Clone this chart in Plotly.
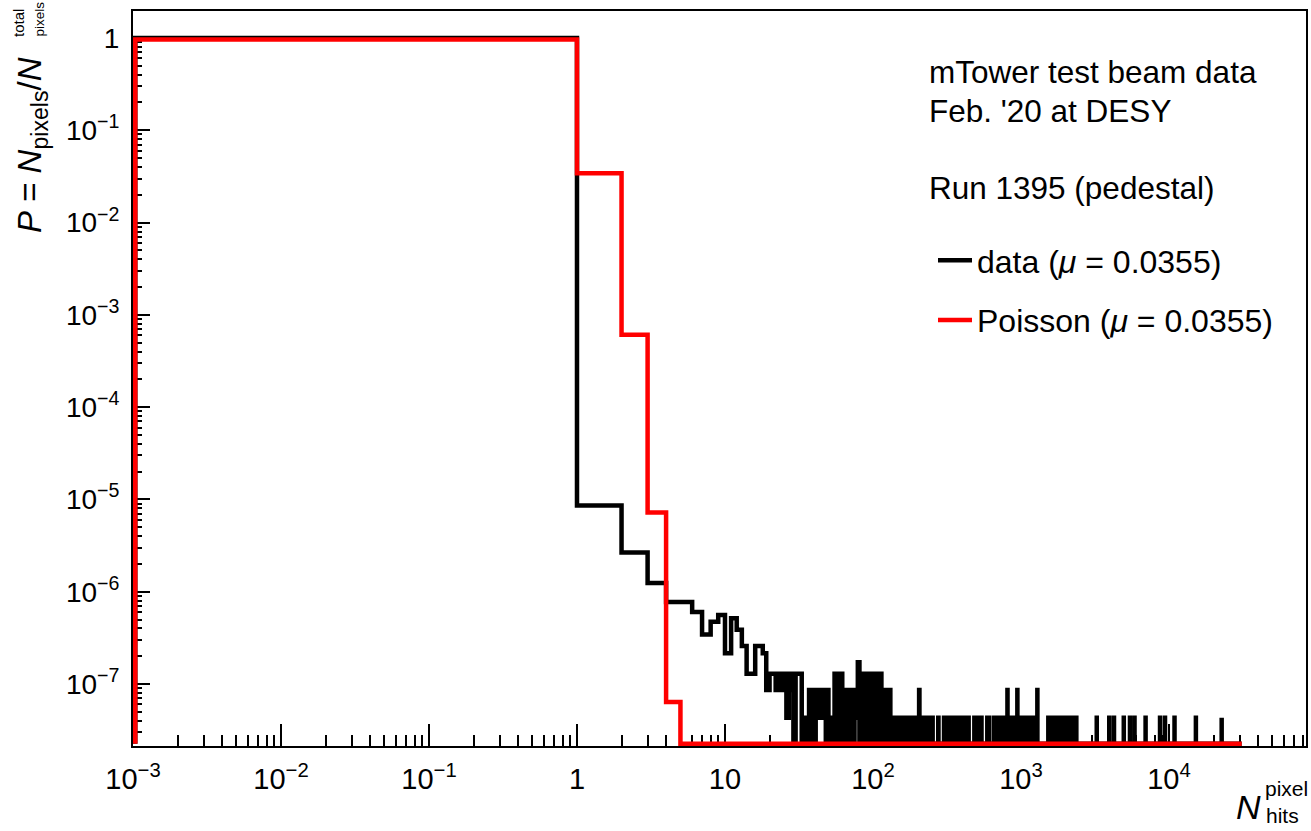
import math
import plotly.graph_objects as go

# ---------------- values ----------------
x_range_vals = [1e-3, 8.43e4]          # visible x range of the frame
y_range_vals = [2.13e-8, 1.96]         # visible y range of the frame
hist_upper_edge = 31000                # last bin edge of both histograms

x_tick_vals = [1e-3, 1e-2, 1e-1, 1, 10, 1e2, 1e3, 1e4]
x_tick_text = ["10<sup>−3</sup>", "10<sup>−2</sup>", "10<sup>−1</sup>", "1", "10",
               "10<sup>2</sup>", "10<sup>3</sup>", "10<sup>4</sup>"]
y_tick_vals = [1e-7, 1e-6, 1e-5, 1e-4, 1e-3, 1e-2, 1e-1, 1]
y_tick_text = ["10<sup>−7</sup>", "10<sup>−6</sup>", "10<sup>−5</sup>", "10<sup>−4</sup>",
               "10<sup>−3</sup>", "10<sup>−2</sup>", "10<sup>−1</sup>", "1"]

# Poisson expectation (bins [0,1), [1,2), ...)
poisson_bin_edges = [0, 1, 2, 3, 4]
poisson_values = [0.965, 0.0343, 6.1e-4, 7.2e-6, 6.4e-8]

# data: bin 0 fraction, then non-empty bins (low edge) and their pixel counts
data_zero_bin_value = 0.99998
single_pixel_fraction = 4.3e-8
data_bins = [
    1, 2, 3, 4, 5, 6, 7, 8, 9, 10, 11, 12, 13, 14, 15, 16, 17, 18, 19, 20,
    21, 22, 23, 24, 25, 26, 27, 28, 30, 31, 32, 34, 37, 39, 41, 42, 43, 44, 45, 46,
    47, 49, 51, 53, 55, 56, 57, 59, 60, 61, 62, 64, 65, 66, 68, 69, 71, 72, 73, 75,
    76, 77, 78, 79, 80, 82, 83, 85, 86, 88, 89, 91, 92, 94, 95, 97, 98, 100, 102, 103,
    105, 107, 108, 110, 111, 113, 115, 117, 119, 120, 122, 123, 125, 127, 128, 130,
    131, 138, 146, 154, 163, 172, 182, 192, 205, 214, 226, 239, 252, 276, 302, 319,
    337, 356, 376, 397, 419, 442, 484, 511, 540, 592, 610, 660, 697, 736, 777, 810,
    850, 895, 945, 995, 1050, 1108, 1170, 1230, 1290, 1530, 1616, 1706, 1801, 1902,
    2008, 2120, 2240, 2365, 3250, 3950, 4250, 4950, 5450, 5850, 6950, 8700, 9400,
    10900, 15200, 22700,
]
data_counts = [
    200, 62, 29, 18, 18, 14, 8, 11, 13, 5, 12, 9, 6, 3, 3, 6, 6, 5, 2, 3,
    3, 2, 3, 2, 3, 1, 3, 2, 3, 3, 3, 1, 2, 2, 2, 1, 2, 1, 2, 1,
    2, 2, 1, 1, 3, 1, 3, 3, 1, 3, 2, 2, 1, 2, 2, 2, 2, 1, 2, 2,
    1, 2, 2, 4, 4, 3, 2, 3, 3, 1, 3, 2, 3, 1, 3, 3, 1, 3, 2, 3,
    3, 1, 3, 3, 1, 3, 1, 2, 1, 2, 2, 1, 2, 1, 2, 2,
    1, 1, 1, 1, 1, 1, 1, 1, 2, 1, 1, 1, 1, 1, 1, 1,
    1, 1, 1, 1, 1, 1, 1, 1, 1, 1, 1, 1, 1, 1, 1, 2,
    1, 1, 2, 1, 1, 1, 1, 1, 2, 1, 1, 1, 1, 1,
    1, 1, 1, 1, 1, 1, 1, 1, 1, 1, 1, 1, 1,
    1, 1, 1,
]

# ---------------- geometry / style ----------------
W, H = 1311, 831
L, R, T, B = 133, 5, 11, 85
PW, PH = W - L - R, H - T - B
FONT = "Liberation Sans, Arial, Helvetica, sans-serif"
LW = 4.5

xlog = [math.log10(v) for v in x_range_vals]
ylog = [math.log10(v) for v in y_range_vals]
px_per_dec_x = PW / (xlog[1] - xlog[0])
px_per_dec_y = PH / (ylog[1] - ylog[0])
# lines at the frame edge are moved inside by half a line width so they stay visible
y_floor = 10 ** (ylog[0] + (LW / 2) / px_per_dec_y)
x_left = 10 ** (xlog[0] + (LW / 2) / px_per_dec_x)


def step_xy(first_value, bins, values):
    """ROOT-like histogram outline: zero bins are drawn on the floor."""
    xs = [x_left, x_left]
    ys = [y_floor, first_value]
    vals = dict(zip(bins, values))
    edges = sorted(set(bins) | {b + 1 for b in bins})
    prev = first_value
    for e in edges:
        v = vals.get(e, 0.0)
        v = v if v > 0 else y_floor
        if v != prev:
            xs.append(e)
            ys.append(v)
            prev = v
    xs.append(hist_upper_edge)
    ys.append(prev)
    if prev != y_floor:
        xs.append(hist_upper_edge)
        ys.append(y_floor)
    return xs, ys


data_vals = [c * single_pixel_fraction for c in data_counts]
dx, dy = step_xy(data_zero_bin_value, data_bins, data_vals)
px_, py_ = step_xy(poisson_values[0], poisson_bin_edges[1:], poisson_values[1:])

fig = go.Figure()
fig.add_trace(go.Scatter(
    x=dx, y=dy, mode="lines", line=dict(color="black", width=LW, shape="hv"),
    name="data (<i>μ</i> = 0.0355)", legendgroup="a"))
fig.add_trace(go.Scatter(
    x=px_, y=py_, mode="lines", line=dict(color="#ff0000", width=LW, shape="hv"),
    name="Poisson (<i>μ</i> = 0.0355)", legendgroup="b"))


def minor_vals(lo, hi):
    out = []
    for n in range(math.floor(lo) - 1, math.ceil(hi) + 1):
        for k in range(2, 10):
            v = k * 10 ** n
            if lo <= math.log10(v) <= hi:
                out.append(v)
    return out


axis_common = dict(
    type="log", showgrid=False, zeroline=False, showline=True, mirror=True,
    linecolor="black", linewidth=2, ticks="inside", tickcolor="black",
    tickwidth=2, tickmode="array", layer="below traces",
)
fig.update_xaxes(
    **axis_common, range=xlog, tickvals=x_tick_vals, ticktext=x_tick_text,
    ticklen=22, ticklabelstandoff=6,
    tickfont=dict(family=FONT, size=29, color="black"),
    minor=dict(ticks="inside", ticklen=11, tickwidth=2, tickcolor="black",
               tickmode="array", tickvals=minor_vals(*xlog), showgrid=False),
)
fig.update_yaxes(
    **axis_common, range=ylog, tickvals=y_tick_vals, ticktext=y_tick_text,
    ticklen=17, ticklabelstandoff=6,
    tickfont=dict(family=FONT, size=28, color="black"),
    minor=dict(ticks="inside", ticklen=9, tickwidth=2, tickcolor="black",
               tickmode="array", tickvals=minor_vals(*ylog), showgrid=False),
)


def pxx(x):
    return (x - L) / PW


def pxy(y):
    return (T + PH - y) / PH


ann = []
txt = dict(family=FONT, size=31.5, color="black")
for s, yc in [("mTower test beam data", 72), ("Feb. '20 at DESY", 111),
              ("Run 1395 (pedestal)", 188)]:
    ann.append(dict(text=s, x=pxx(927), y=pxy(yc), xref="paper", yref="paper",
                    xanchor="left", yanchor="middle", showarrow=False, font=txt))

# y-axis title (rotated), with stacked super/subscript
ann.append(dict(text="<i>P</i> = <i>N</i><sub>pixels</sub>/<i>N</i>", textangle=-90,
                x=pxx(32), y=pxy(235), xref="paper", yref="paper",
                xanchor="center", yanchor="bottom", showarrow=False,
                font=dict(family=FONT, size=33, color="black")))
ann.append(dict(text="total", textangle=-90, x=pxx(19), y=pxy(39), xref="paper",
                yref="paper", xanchor="center", yanchor="bottom", showarrow=False,
                font=dict(family=FONT, size=15, color="black")))
ann.append(dict(text="pixels", textangle=-90, x=pxx(39), y=pxy(39), xref="paper",
                yref="paper", xanchor="center", yanchor="bottom", showarrow=False,
                font=dict(family=FONT, size=13.5, color="black")))
# x-axis title
ann.append(dict(text="<i>N</i>", x=pxx(1263), y=pxy(807), xref="paper", yref="paper",
                xanchor="right", yanchor="middle", showarrow=False,
                font=dict(family=FONT, size=34, color="black")))
ann.append(dict(text="pixel", x=pxx(1263), y=pxy(788), xref="paper", yref="paper",
                xanchor="left", yanchor="middle", showarrow=False,
                font=dict(family=FONT, size=21, color="black")))
ann.append(dict(text="hits", x=pxx(1264), y=pxy(815), xref="paper", yref="paper",
                xanchor="left", yanchor="middle", showarrow=False,
                font=dict(family=FONT, size=21, color="black")))

fig.update_layout(
    width=W, height=H, margin=dict(l=L, r=R, t=T, b=B, autoexpand=False),
    paper_bgcolor="white", plot_bgcolor="white",
    font=dict(family=FONT, color="black"),
    annotations=ann,
    showlegend=True,
    legend=dict(x=pxx(933), y=pxy(233), xanchor="left", yanchor="top",
                bgcolor="rgba(0,0,0,0)", borderwidth=0, traceorder="grouped",
                tracegroupgap=15, itemwidth=34,
                font=dict(family=FONT, size=32, color="black")),
)

fig.write_html("out.html")
